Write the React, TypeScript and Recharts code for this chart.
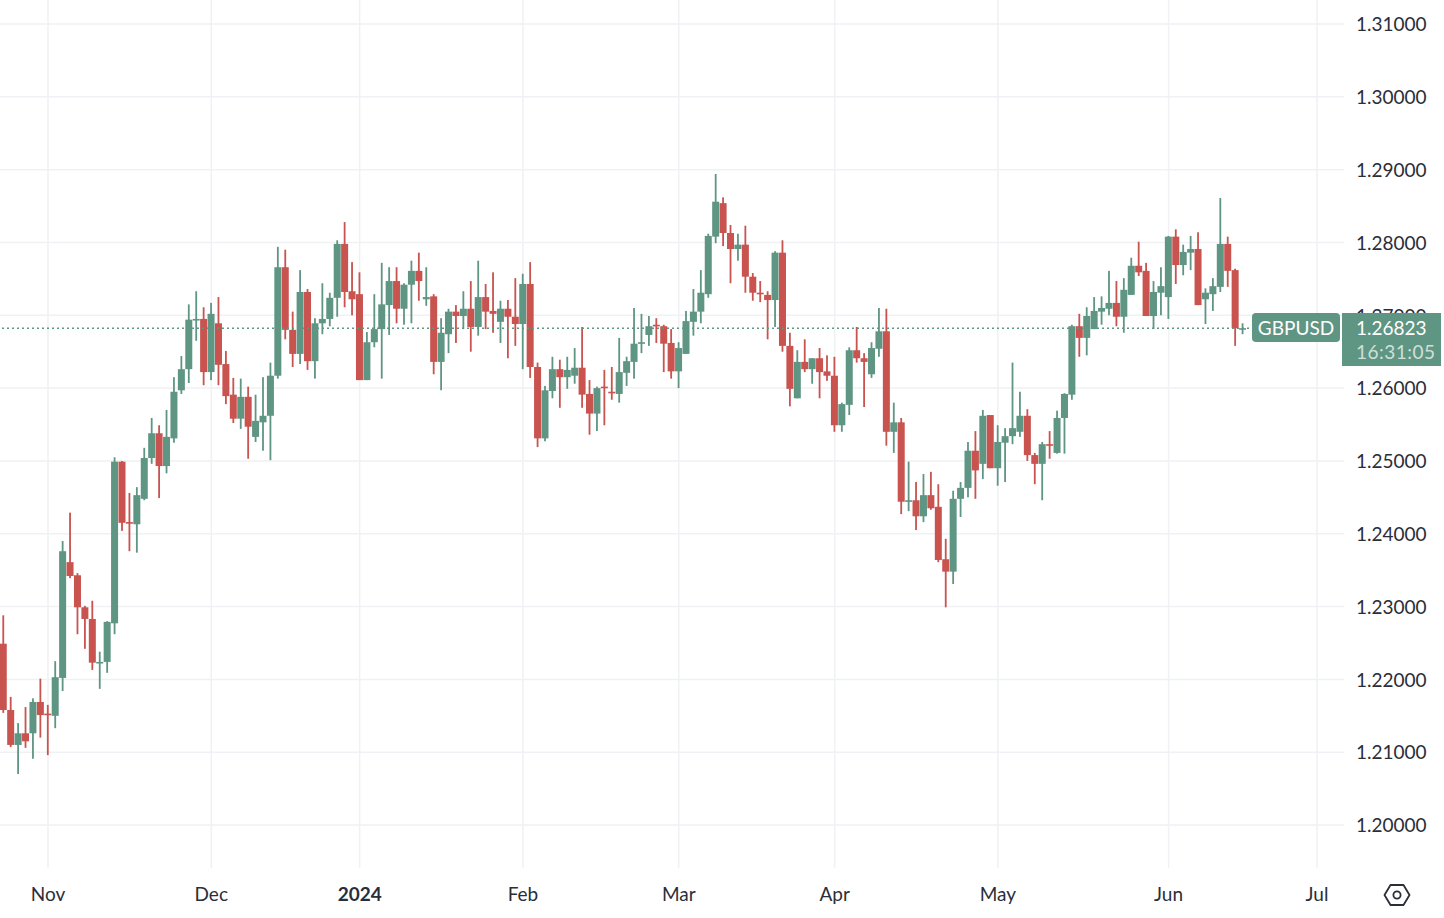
import React from 'react';
import { ComposedChart, Bar, XAxis, YAxis, CartesianGrid, ReferenceLine } from 'recharts';

const opens = [1.2249,1.2158,1.2110,1.2126,1.2126,1.2169,1.2153,1.2150,1.2202,1.2361,1.2343,1.2299,1.2283,1.2223,1.2224,1.2277,1.2499,1.2416,1.2413,1.2448,1.2504,1.2538,1.2493,1.2531,1.2597,1.2626,1.2694,1.2695,1.2622,1.2689,1.2633,1.2591,1.2558,1.2588,1.2533,1.2553,1.2562,1.2617,1.2766,1.2680,1.2647,1.2732,1.2637,1.2689,1.2695,1.2724,1.2798,1.2733,1.2729,1.2611,1.2663,1.2681,1.2714,1.2747,1.2709,1.2742,1.2761,1.2722,1.2726,1.2636,1.2674,1.2705,1.2699,1.2709,1.2684,1.2725,1.2706,1.2691,1.2709,1.2698,1.2688,1.2743,1.2629,1.2531,1.2596,1.2626,1.2615,1.2617,1.2628,1.2592,1.2565,1.2602,1.2595,1.2592,1.2621,1.2636,1.2661,1.2673,1.2687,1.2685,1.2662,1.2623,1.2647,1.2691,1.2705,1.2729,1.2808,1.2854,1.2813,1.2791,1.2797,1.2753,1.2731,1.2728,1.2721,1.2786,1.2658,1.2586,1.2636,1.2626,1.2641,1.2623,1.2617,1.2549,1.2577,1.2652,1.2641,1.2619,1.2654,1.2678,1.2540,1.2553,1.2445,1.2446,1.2424,1.2453,1.2437,1.2365,1.2348,1.2448,1.2463,1.2514,1.2496,1.2563,1.2490,1.2525,1.2534,1.2540,1.2562,1.2508,1.2496,1.2523,1.2511,1.2559,1.2591,1.2685,1.2669,1.2681,1.2705,1.2709,1.2717,1.2698,1.2728,1.2768,1.2761,1.2699,1.2731,1.2725,1.2808,1.2769,1.2786,1.2791,1.2722,1.2729,1.2739,1.2798,1.2762,1.2681];
const highs = [1.2288,1.2176,1.2140,1.2162,1.2174,1.2201,1.2165,1.2225,1.2390,1.2429,1.2346,1.2301,1.2308,1.2238,1.2280,1.2505,1.2500,1.2456,1.2464,1.2518,1.2559,1.2549,1.2570,1.2615,1.2644,1.2715,1.2733,1.2711,1.2717,1.2725,1.2651,1.2614,1.2613,1.2602,1.2591,1.2615,1.2635,1.2794,1.2790,1.2705,1.2762,1.2736,1.2696,1.2744,1.2731,1.2803,1.2828,1.2773,1.2759,1.2677,1.2729,1.2772,1.2766,1.2766,1.2744,1.2775,1.2786,1.2766,1.2729,1.2696,1.2709,1.2714,1.2733,1.2747,1.2775,1.2743,1.2759,1.2720,1.2721,1.2751,1.2757,1.2773,1.2635,1.2603,1.2643,1.2639,1.2643,1.2655,1.2684,1.2611,1.2602,1.2625,1.2629,1.2669,1.2643,1.2710,1.2702,1.2699,1.2696,1.2687,1.2681,1.2663,1.2706,1.2736,1.2762,1.2812,1.2894,1.2862,1.2824,1.2812,1.2823,1.2758,1.2747,1.2733,1.2788,1.2803,1.2676,1.2652,1.2667,1.2641,1.2655,1.2645,1.2643,1.2580,1.2656,1.2684,1.2648,1.2663,1.2710,1.2709,1.2580,1.2559,1.2499,1.2471,1.2482,1.2485,1.2468,1.2393,1.2459,1.2471,1.2526,1.2541,1.2570,1.2563,1.2549,1.2545,1.2635,1.2595,1.2571,1.2511,1.2526,1.2541,1.2569,1.2593,1.2687,1.2702,1.2711,1.2725,1.2726,1.2761,1.2747,1.2751,1.2779,1.2801,1.2772,1.2747,1.2766,1.2809,1.2818,1.2797,1.2809,1.2814,1.2737,1.2751,1.2861,1.2808,1.2764,1.2689];
const lows = [1.2154,1.2107,1.2070,1.2106,1.2091,1.2120,1.2096,1.2133,1.2184,1.2339,1.2262,1.2242,1.2213,1.2187,1.2209,1.2262,1.2404,1.2376,1.2374,1.2446,1.2496,1.2449,1.2483,1.2525,1.2592,1.2607,1.2665,1.2604,1.2611,1.2604,1.2578,1.2552,1.2544,1.2503,1.2526,1.2514,1.2501,1.2613,1.2667,1.2629,1.2633,1.2625,1.2613,1.2674,1.2685,1.2698,1.2711,1.2700,1.2611,1.2611,1.2656,1.2613,1.2673,1.2689,1.2687,1.2689,1.2720,1.2713,1.2619,1.2597,1.2648,1.2662,1.2681,1.2650,1.2672,1.2681,1.2676,1.2662,1.2641,1.2658,1.2626,1.2614,1.2519,1.2527,1.2586,1.2573,1.2599,1.2606,1.2573,1.2536,1.2541,1.2549,1.2584,1.2580,1.2603,1.2613,1.2648,1.2658,1.2662,1.2622,1.2613,1.2600,1.2647,1.2672,1.2689,1.2724,1.2799,1.2795,1.2744,1.2775,1.2731,1.2720,1.2718,1.2667,1.2684,1.2650,1.2575,1.2586,1.2622,1.2606,1.2586,1.2610,1.2540,1.2540,1.2563,1.2635,1.2574,1.2614,1.2643,1.2521,1.2511,1.2427,1.2431,1.2405,1.2416,1.2433,1.2361,1.2299,1.2331,1.2423,1.2450,1.2448,1.2475,1.2490,1.2466,1.2471,1.2523,1.2533,1.2500,1.2468,1.2446,1.2503,1.2510,1.2510,1.2584,1.2643,1.2645,1.2681,1.2687,1.2700,1.2685,1.2676,1.2728,1.2754,1.2699,1.2681,1.2700,1.2695,1.2743,1.2755,1.2762,1.2714,1.2688,1.2706,1.2732,1.2739,1.2658,1.2674];
const closes = [1.2158,1.2110,1.2126,1.2115,1.2169,1.2151,1.2151,1.2203,1.2376,1.2342,1.2299,1.2283,1.2223,1.2224,1.2279,1.2499,1.2415,1.2415,1.2453,1.2504,1.2538,1.2493,1.2533,1.2595,1.2626,1.2694,1.2695,1.2622,1.2702,1.2632,1.2589,1.2558,1.2588,1.2547,1.2555,1.2562,1.2617,1.2766,1.2680,1.2647,1.2732,1.2637,1.2689,1.2695,1.2724,1.2798,1.2732,1.2722,1.2611,1.2663,1.2681,1.2715,1.2747,1.2709,1.2742,1.2761,1.2747,1.2725,1.2636,1.2676,1.2705,1.2699,1.2709,1.2684,1.2725,1.2705,1.2702,1.2709,1.2698,1.2688,1.2743,1.2629,1.2531,1.2597,1.2626,1.2615,1.2625,1.2628,1.2591,1.2565,1.2600,1.2600,1.2593,1.2622,1.2637,1.2661,1.2663,1.2685,1.2685,1.2661,1.2623,1.2655,1.2692,1.2705,1.2731,1.2809,1.2856,1.2813,1.2791,1.2797,1.2753,1.2731,1.2729,1.2721,1.2786,1.2658,1.2599,1.2636,1.2626,1.2641,1.2622,1.2617,1.2549,1.2578,1.2652,1.2641,1.2636,1.2655,1.2678,1.2540,1.2553,1.2444,1.2446,1.2424,1.2453,1.2435,1.2364,1.2348,1.2448,1.2463,1.2514,1.2487,1.2562,1.2490,1.2526,1.2534,1.2545,1.2562,1.2508,1.2496,1.2523,1.2522,1.2559,1.2592,1.2685,1.2669,1.2699,1.2706,1.2710,1.2717,1.2698,1.2735,1.2768,1.2759,1.2699,1.2732,1.2740,1.2808,1.2769,1.2787,1.2791,1.2714,1.2731,1.2740,1.2798,1.2761,1.26823,1.26823];

const priceTicks = [1.20,1.21,1.22,1.23,1.24,1.25,1.26,1.27,1.28,1.29,1.30,1.31];
const monthTickBars = [6,28,48,70,91,112,134,157,177];
const monthLabels = ['Nov','Dec','2024','Feb','Mar','Apr','May','Jun','Jul'];
const SYMBOL = 'GBPUSD';
const LAST_PRICE = 1.26823;
const COUNTDOWN = '16:31:05';

const UP = '#5f9583';
const DOWN = '#c8534f';
const GRID = '#f0f1f4';
const TEXT = '#2a2e39';
const FONT = 'Lato, sans-serif';

const candles = opens.map((open, i) => ({
  i,
  open,
  high: highs[i],
  low: lows[i],
  close: closes[i],
  range: [lows[i], highs[i]],
}));

const Candle = (props: any) => {
  const { x, y, width, height, payload } = props;
  const { open, high, low, close } = payload;
  const color = close >= open ? UP : DOWN;
  const cx = x + width / 2;
  const perPrice = height / (high - low);
  const top = y + (high - Math.max(open, close)) * perPrice;
  const bottom = y + (high - Math.min(open, close)) * perPrice;
  return (
    <g>
      <rect x={cx - 0.9} y={y} width={1.8} height={height} fill={color} />
      <rect x={x} y={top} width={width} height={Math.max(bottom - top, 1.6)} fill={color} />
    </g>
  );
};

const MonthTick = (props: any) => {
  const { x, y, payload } = props;
  const label = monthLabels[monthTickBars.indexOf(payload.value)];
  return (
    <text
      x={x}
      y={y + 25}
      textAnchor="middle"
      fontFamily={FONT}
      fontSize={19}
      fontWeight={label === '2024' ? 700 : 400}
      fill={TEXT}
    >
      {label}
    </text>
  );
};

const abs = (l: number, t: number, w: number, h: number): React.CSSProperties => ({
  position: 'absolute',
  left: l,
  top: t,
  width: w,
  height: h,
});

export default function App() {
  return (
    <div style={{ position: 'absolute', left: 0, top: 0, width: 1444, height: 918, background: '#fff', overflow: 'hidden', fontFamily: FONT }}>
      <ComposedChart width={1444} height={918} data={candles} margin={{ top: 0, right: 0, bottom: 0, left: 0 }}>
        <CartesianGrid stroke={GRID} strokeWidth={1.5} syncWithTicks />
        <XAxis
          type="number"
          dataKey="i"
          domain={[-0.468, 180.64]}
          ticks={monthTickBars}
          height={50}
          axisLine={false}
          tickLine={false}
          interval={0}
          tick={<MonthTick />}
          allowDataOverflow
        />
        <YAxis
          orientation="right"
          domain={[1.1941, 1.313296]}
          ticks={priceTicks}
          width={100}
          axisLine={false}
          tickLine={false}
          tickMargin={6}
          interval={0}
          allowDataOverflow
          tickFormatter={(v: number) => v.toFixed(5)}
          tick={{ fontFamily: FONT, fontSize: 19, fill: TEXT, dy: 0.5 }}
        />
        <ReferenceLine y={LAST_PRICE} stroke={UP} strokeWidth={1.5} strokeDasharray="2 3" />
        <Bar dataKey="range" barSize={7} isAnimationActive={false} shape={<Candle />} />
      </ComposedChart>

      <div style={{ ...abs(1252, 313, 88, 29), background: UP, borderRadius: 4, color: '#fff', fontSize: 19, lineHeight: '30px', textAlign: 'center' }}>
        {SYMBOL}
      </div>
      <div style={{ ...abs(1342, 313, 99, 53), background: UP, fontSize: 19, lineHeight: '24px', padding: '3px 0 0 14px', boxSizing: 'border-box' }}>
        <div style={{ color: '#fff' }}>{LAST_PRICE.toFixed(5)}</div>
        <div style={{ color: '#cfe0d9', letterSpacing: 0.5 }}>{COUNTDOWN}</div>
      </div>
      <svg style={abs(1382, 882, 30, 26)} viewBox="0 0 30 26">
        <path d="M8.5 3 H21.5 L27.5 13 L21.5 23 H8.5 L2.5 13 Z" fill="none" stroke={TEXT} strokeWidth={1.8} strokeLinejoin="round" />
        <circle cx={15} cy={13} r={3.6} fill="none" stroke={TEXT} strokeWidth={1.8} />
      </svg>
    </div>
  );
}
